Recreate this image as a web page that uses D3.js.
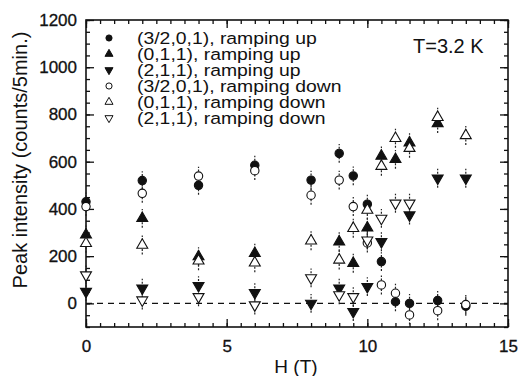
<!DOCTYPE html>
<html>
<head>
<meta charset="utf-8">
<script src="https://cdn.jsdelivr.net/npm/d3@7"></script>
<style>
  html, body { margin: 0; padding: 0; background: #fff; }
  svg { display: block; font-family: "Liberation Sans", Arial, Helvetica, sans-serif; }
</style>
</head>
<body>
<div id="chart"></div>
<script>
// Field values (T) shared by all series; null = no point measured / visible
const fields = [0, 2, 4, 6, 8, 9, 9.5, 10, 10.5, 11, 11.5, 12.5, 13.5];

const circUp   = [430, 520, 500, 585, 522, 635, 540, 420, 177, 7, 0, 12, -12];
const triUp    = [290, 360, 198, 212, null, 261, 170, 320, 624, 610, 680, 762, null];
const dtriUp   = [50, 64, 75, 45, 0, 64, -35, 71, 261, null, 374, 530, 530];
const circDown = [410, 466, 539, 562, 458, 522, 410, 256, 78, 43, -49, -31, -5];
const triDown  = [254, 247, 180, 172, 265, 184, 318, 395, 581, 699, 657, 788, 711];
const dtriDown = [120, 14, 28, -7, 108, 36, 28, 268, 360, 424, 424, null, null];

const errBar = 40; // counts, roughly the same for every point

const legendLabels = [
  "(3/2,0,1), ramping up",
  "(0,1,1), ramping up",
  "(2,1,1), ramping up",
  "(3/2,0,1), ramping down",
  "(0,1,1), ramping down",
  "(2,1,1), ramping down",
];

const xMajor = [0, 5, 10, 15];
const yMajor = [0, 200, 400, 600, 800, 1000, 1200];

(function () {
  const W = 519, H = 376;
  const x = d3.scaleLinear().domain([0, 15]).range([86, 508]);
  const y = d3.scaleLinear().domain([-100, 1200]).range([327, 20]);

  const svg = d3.select("#chart").append("svg").attr("width", W).attr("height", H);

  const series = [
    { vals: circUp, shape: "circle", filled: true },
    { vals: triUp, shape: "up", filled: true },
    { vals: dtriUp, shape: "down", filled: true },
    { vals: circDown, shape: "circle", filled: false },
    { vals: triDown, shape: "up", filled: false },
    { vals: dtriDown, shape: "down", filled: false },
  ];

  function symPath(shape, big) {
    if (shape === "circle") return d3.symbol(d3.symbolCircle, big ? 55 : 30)();
    return d3.symbol(d3.symbolTriangle, big ? 52 : 28)();
  }

  // zero line
  svg.append("line")
    .attr("x1", x(0)).attr("x2", x(15))
    .attr("y1", y(0)).attr("y2", y(0))
    .attr("stroke", "#111").attr("stroke-width", 1.2)
    .attr("stroke-dasharray", "6,5");

  // axes: inward ticks on all four sides
  const minorX = d3.range(0, 15.01, 0.5);
  const minorY = d3.range(-100, 1200.1, 50);

  function addAxis(gen, tx, ty, values, size, labels, pad) {
    const g = svg.append("g")
      .attr("transform", `translate(${tx},${ty})`)
      .call(gen.tickValues(values).tickSize(-size).tickPadding(pad || 3)
        .tickFormat(labels ? d3.format("d") : ""));
    g.select(".domain").remove();
    g.selectAll(".tick line").attr("stroke", "#111").attr("stroke-width", 1.3);
    g.selectAll("text").attr("fill", "#111").attr("font-size", "17px")
      .attr("stroke", "#111").attr("stroke-width", 0.3);
    return g;
  }

  addAxis(d3.axisBottom(x), 0, y(-100), minorX, 4, false);
  addAxis(d3.axisBottom(x), 0, y(-100), xMajor, 8, true, 13);
  addAxis(d3.axisTop(x), 0, y(1200), minorX, 4, false);
  addAxis(d3.axisTop(x), 0, y(1200), xMajor, 8, false);
  addAxis(d3.axisLeft(y), x(0), 0, minorY, 4, false);
  addAxis(d3.axisLeft(y), x(0), 0, yMajor, 8, true, 9);
  addAxis(d3.axisRight(y), x(15), 0, minorY, 4, false);
  addAxis(d3.axisRight(y), x(15), 0, yMajor, 8, false);

  svg.append("rect")
    .attr("x", x(0)).attr("y", y(1200))
    .attr("width", x(15) - x(0)).attr("height", y(-100) - y(1200))
    .attr("fill", "none").attr("stroke", "#111").attr("stroke-width", 1.6);

  // error bars
  const eb = svg.append("g").attr("stroke", "#222").attr("stroke-width", 1.2)
    .attr("stroke-dasharray", "2,1.5");
  series.forEach((s) => {
    s.vals.forEach((v, i) => {
      if (v == null) return;
      eb.append("line")
        .attr("x1", x(fields[i])).attr("x2", x(fields[i]))
        .attr("y1", y(v - errBar)).attr("y2", y(v + errBar));
    });
  });

  // markers
  series.forEach((s) => {
    const pts = s.vals.map((v, i) => ({ h: fields[i], v })).filter((d) => d.v != null);
    svg.append("g").selectAll("path")
      .data(pts)
      .join("path")
      .attr("d", symPath(s.shape, true))
      .attr("transform", (d) => `translate(${x(d.h)},${y(d.v)})${s.shape === "down" ? " rotate(180)" : ""}`)
      .attr("fill", s.filled ? "#111" : "#fff")
      .attr("stroke", "#111")
      .attr("stroke-width", 1.1);
  });

  // legend (rows packed tightly, text a bit wide, as in the original)
  const lg = svg.append("g");
  series.forEach((s, i) => {
    const yy = 38 + i * 16;
    lg.append("path")
      .attr("d", symPath(s.shape, false))
      .attr("transform", `translate(109,${yy})${s.shape === "down" ? " rotate(180)" : ""}`)
      .attr("fill", s.filled ? "#111" : "#fff")
      .attr("stroke", "#111").attr("stroke-width", 1);
    lg.append("text")
      .attr("transform", `translate(137,${yy + 6}) scale(1.14,1)`)
      .attr("font-size", "17px").attr("fill", "#111")
      .text(legendLabels[i]);
  });

  svg.append("text")
    .attr("x", 413).attr("y", 53)
    .attr("font-size", "20px").attr("fill", "#111")
    .text("T=3.2 K");

  svg.append("text")
    .attr("transform", "translate(27,160) rotate(-90)")
    .attr("text-anchor", "middle")
    .attr("font-size", "20px").attr("fill", "#111")
    .text("Peak intensity (counts/5min.)");

  svg.append("text")
    .attr("x", 296).attr("y", 373)
    .attr("text-anchor", "middle")
    .attr("font-size", "19px").attr("fill", "#111")
    .text("H (T)");
})();
</script>
</body>
</html>
